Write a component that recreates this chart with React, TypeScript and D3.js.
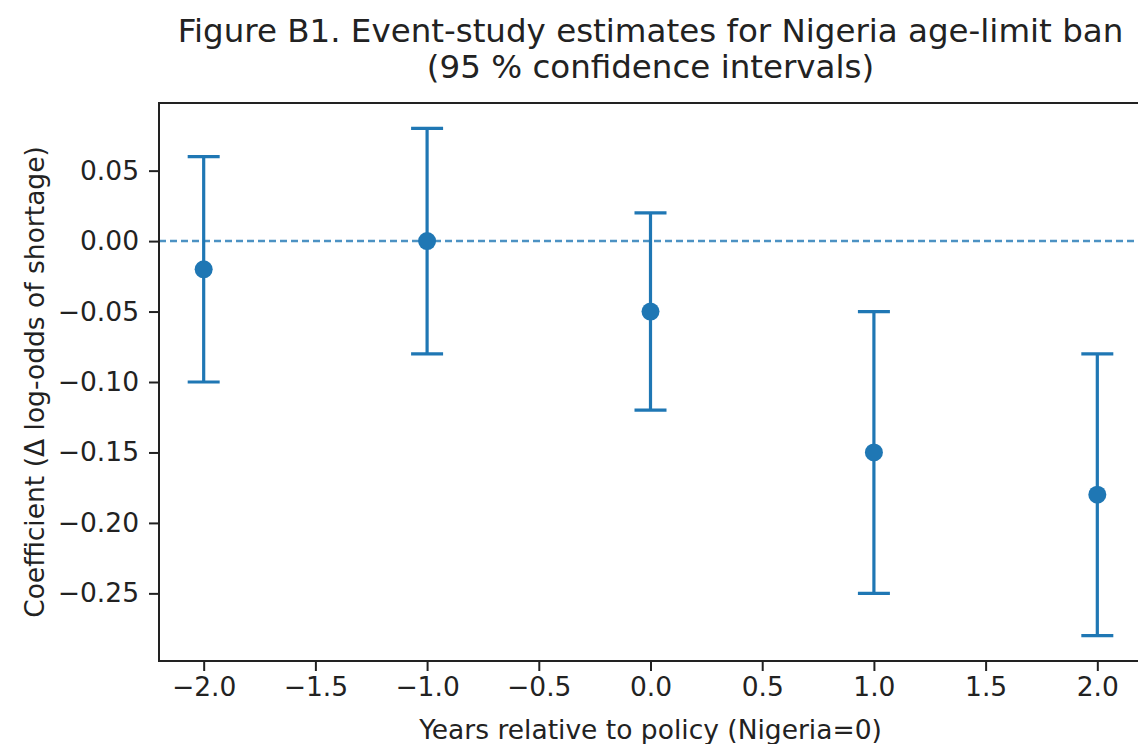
import React, { useRef, useEffect } from 'react';
import * as d3 from 'd3';

// event-time (years relative to policy)
const years = [-2, -1, 0, 1, 2];
// point estimates
const coefs = [-0.02, 0.0, -0.05, -0.15, -0.18];
// 95% CI bounds
const ciLow = [-0.1, -0.08, -0.12, -0.25, -0.28];
const ciHigh = [0.06, 0.08, 0.02, -0.05, -0.08];

const xTicks = [-2.0, -1.5, -1.0, -0.5, 0.0, 0.5, 1.0, 1.5, 2.0];
const yTicks = [0.05, 0.0, -0.05, -0.1, -0.15, -0.2, -0.25];

const titleLines = [
  'Figure B1. Event-study estimates for Nigeria age-limit ban',
  '(95 % confidence intervals)',
];
const xLabel = 'Years relative to policy (Nigeria=0)';
const yLabel = 'Coefficient (\u0394 log-odds of shortage)';

const App = () => {
  const ref = useRef<SVGSVGElement>(null);

  useEffect(() => {
    const W = 1138;
    const H = 744;
    const svg = d3.select(ref.current).attr('width', W).attr('height', H);
    svg.selectAll('*').remove();

    const blue = '#1f77b4';
    const font = 'DejaVu Sans, sans-serif';
    const left = 159;
    const right = 1142;
    const top = 103;
    const bottom = 661;

    const x = d3.scaleLinear().domain([-2.2, 2.2]).range([left, right]);
    const y = d3.scaleLinear().domain([0.098, -0.298]).range([top, bottom]);

    const data = years.map((yr, i) => ({ yr, c: coefs[i], lo: ciLow[i], hi: ciHigh[i] }));

    // zero reference line
    svg.append('line')
      .attr('x1', left).attr('x2', right)
      .attr('y1', y(0)).attr('y2', y(0))
      .attr('stroke', blue).attr('stroke-opacity', 0.8)
      .attr('stroke-width', 2.5)
      .attr('stroke-dasharray', '7,4');

    // error bars
    const g = svg.append('g');
    g.selectAll('.bar')
      .data(data)
      .enter().append('line')
      .attr('x1', d => x(d.yr)).attr('x2', d => x(d.yr))
      .attr('y1', d => y(d.hi)).attr('y2', d => y(d.lo))
      .attr('stroke', blue).attr('stroke-width', 3.2);

    const cap = 16;
    ['hi', 'lo'].forEach(k => {
      g.selectAll('.cap-' + k)
        .data(data)
        .enter().append('line')
        .attr('x1', d => x(d.yr) - cap).attr('x2', d => x(d.yr) + cap)
        .attr('y1', d => y((d as any)[k])).attr('y2', d => y((d as any)[k]))
        .attr('stroke', blue).attr('stroke-width', 3.2);
    });

    g.selectAll('.pt')
      .data(data)
      .enter().append('circle')
      .attr('cx', d => x(d.yr)).attr('cy', d => y(d.c))
      .attr('r', 9).attr('fill', blue);

    // axes
    const xAxis = svg.append('g')
      .attr('transform', `translate(0,${bottom})`)
      .call(d3.axisBottom(x).tickValues(xTicks).tickSize(10).tickPadding(6)
        .tickFormat(d => d3.format('.1f')(d as number).replace('-', '\u2212')));
    const yAxis = svg.append('g')
      .attr('transform', `translate(${left},0)`)
      .call(d3.axisLeft(y).tickValues(yTicks).tickSize(10).tickPadding(10)
        .tickFormat(d => d3.format('.2f')(d as number).replace('-', '\u2212')));

    [xAxis, yAxis].forEach(a => {
      a.select('.domain').remove();
      a.selectAll('line').attr('stroke', '#222').attr('stroke-width', 2);
      a.selectAll('text').attr('font-family', font).attr('font-size', 26.5).attr('fill', '#222');
    });

    // spines
    svg.append('rect')
      .attr('x', left).attr('y', top)
      .attr('width', right - left).attr('height', bottom - top)
      .attr('fill', 'none').attr('stroke', '#222').attr('stroke-width', 2);

    // title
    const title = svg.append('text')
      .attr('text-anchor', 'middle')
      .attr('font-family', font).attr('font-size', 32.5).attr('fill', '#222');
    titleLines.forEach((t, i) => {
      title.append('tspan').attr('x', (left + right) / 2).attr('y', 42 + i * 36).text(t);
    });

    svg.append('text')
      .attr('x', (left + right) / 2).attr('y', 739)
      .attr('text-anchor', 'middle')
      .attr('font-family', font).attr('font-size', 26.5).attr('fill', '#222')
      .text(xLabel);

    svg.append('text')
      .attr('transform', `translate(44,${(top + bottom) / 2}) rotate(-90)`)
      .attr('text-anchor', 'middle')
      .attr('font-family', font).attr('font-size', 26.5).attr('fill', '#222')
      .text(yLabel);
  }, []);

  return <svg ref={ref} style={{ position: 'absolute', left: 0, top: 0 }}></svg>;
};

export default App;
